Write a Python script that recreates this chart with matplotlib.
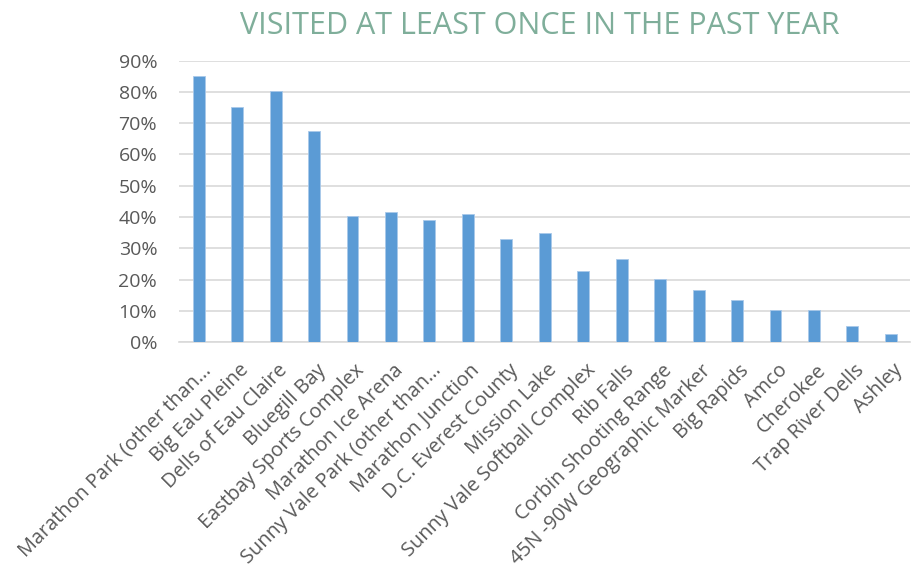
import matplotlib
matplotlib.use("Agg")
import matplotlib.pyplot as plt
from matplotlib.ticker import PercentFormatter, MultipleLocator
from matplotlib.transforms import ScaledTranslation

categories = [
    "Marathon Park (other than\u2026", "Big Eau Pleine", "Dells of Eau Claire",
    "Bluegill Bay", "Eastbay Sports Complex", "Marathon Ice Arena",
    "Sunny Vale Park (other than\u2026", "Marathon Junction", "D.C. Everest County",
    "Mission Lake", "Sunny Vale Softball Complex", "Rib Falls",
    "Corbin Shooting Range", "45N -90W Geographic Marker", "Big Rapids",
    "Amco", "Cherokee", "Trap River Dells", "Ashley",
]
values = [85.2, 75.1, 80.2, 67.6, 40.4, 41.7, 39.2, 41.1, 32.9, 34.8,
          22.9, 26.6, 20.3, 16.6, 13.4, 10.3, 10.3, 5.2, 2.7]
title = "VISITED AT LEAST ONCE IN THE PAST YEAR"

plt.rcParams['font.family'] = ['Open Sans', 'DejaVu Sans']

fig = plt.figure(figsize=(9.11, 5.77), dpi=100)
ax = fig.add_axes([0.197, 0.4068, 0.802, 0.4882])

x = list(range(len(categories)))
ax.bar(x, values, width=0.31, color='#5b9bd5', edgecolor='#a9c9ea', linewidth=0.6, zorder=3)

ax.set_xlim(-0.5, len(categories) - 0.5)
ax.set_ylim(0, 90)
ax.yaxis.set_major_locator(MultipleLocator(10))
ax.yaxis.set_major_formatter(PercentFormatter(decimals=0))
ax.grid(axis='y', color='#d9d9d9', linewidth=1.2, zorder=0)
for s in ['top', 'right', 'left']:
    ax.spines[s].set_visible(False)
ax.spines['bottom'].set_color('#d9d9d9')
ax.spines['bottom'].set_linewidth(1.2)
ax.tick_params(axis='both', length=0, colors='#595959', labelsize=14)
ax.tick_params(axis='y', pad=16)
ax.set_xticks(x)
ax.set_xticklabels(categories, rotation=45, ha='right', va='top',
                   rotation_mode='anchor', color='#595959', fontsize=14.3)
ax.tick_params(axis='x', pad=8)
offset = ScaledTranslation(0.02, -0.07, fig.dpi_scale_trans)
for lab in ax.get_xticklabels():
    lab.set_transform(lab.get_transform() + offset)

fig.text(0.593, 0.955, title, ha='center', va='center', fontsize=22,
         color='#7fae9a')

fig.savefig("out.png", dpi=100)
